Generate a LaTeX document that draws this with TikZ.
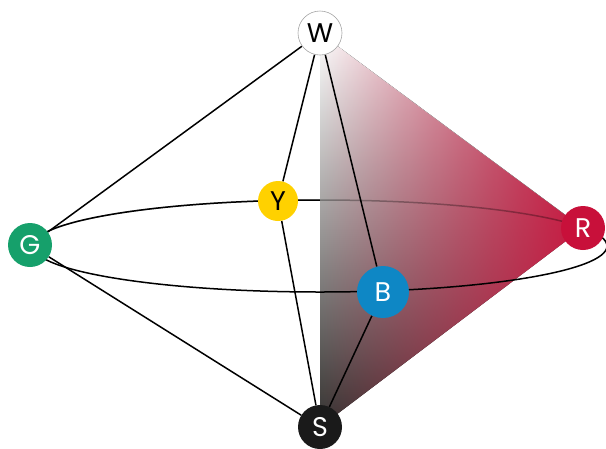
\documentclass[tikz,border=0pt]{standalone}
\usepackage{fontspec}
\setmainfont{Poppins}
\usetikzlibrary{fadings,backgrounds}
\definecolor{cG}{RGB}{22,160,107}
\definecolor{cR}{RGB}{200,16,58}
\definecolor{cY}{RGB}{255,209,0}
\definecolor{cB}{RGB}{14,135,197}
\definecolor{cS}{RGB}{26,26,26}
\definecolor{cRed}{RGB}{200,24,64}
\definecolor{cMid}{RGB}{155,118,118}
\definecolor{cDark}{RGB}{52,50,48}
\tikzfading[name=fadered, left color=transparent!100, right color=transparent!0]
\begin{document}
\begin{tikzpicture}[x=1pt,y=-1pt,
  ball/.style={circle, inner sep=0pt, font=\fontsize{27}{27}\selectfont},
  edge/.style={line width=1.5pt, black}]
\useasboundingbox (0,0) rectangle (606,448);
\node[ball, minimum size=44pt, fill=white, draw=gray!70, line width=0.6pt] (W) at (320,33) {W};
\node[ball, minimum size=44pt, fill=cG, text=white] (G) at (30,245) {G};
\node[ball, minimum size=44pt, fill=cR, text=white] (R) at (583,228) {R};
\node[ball, minimum size=44pt, fill=cS, text=white] (S) at (320,427) {S};
\node[ball, minimum size=40pt, fill=cY, text=black] (Y) at (278,201) {Y};
\node[ball, minimum size=52pt, fill=cB, text=white] (B) at (383,292) {B};
\begin{scope}[on background layer]
  % back (upper) arc of the equator
  \draw[edge] (607,246) arc[start angle=0, end angle=180, x radius=287pt, y radius=46pt];
  % colour triangle
  \fill[top color=white, middle color=cMid, bottom color=cDark] (W.center) -- (R.center) -- (S.center) -- cycle;
  \fill[cRed, path fading=fadered] (W.center) -- (R.center) -- (S.center) -- cycle;
  % back arc seen through the triangle
  \draw[edge, opacity=0.3] (607,246) arc[start angle=0, end angle=180, x radius=287pt, y radius=46pt];
  % front (lower) arc
  \draw[edge] (33,246) arc[start angle=180, end angle=360, x radius=287pt, y radius=46pt];
  % edges
  \draw[edge] (W) -- (G);
  \draw[edge] (W) -- (Y);
  \draw[edge] (W) -- (B);
  \draw[edge] (G) -- (S);
  \draw[edge] (Y) -- (S);
  \draw[edge] (B) -- (S);
\end{scope}
\end{tikzpicture}
\end{document}
